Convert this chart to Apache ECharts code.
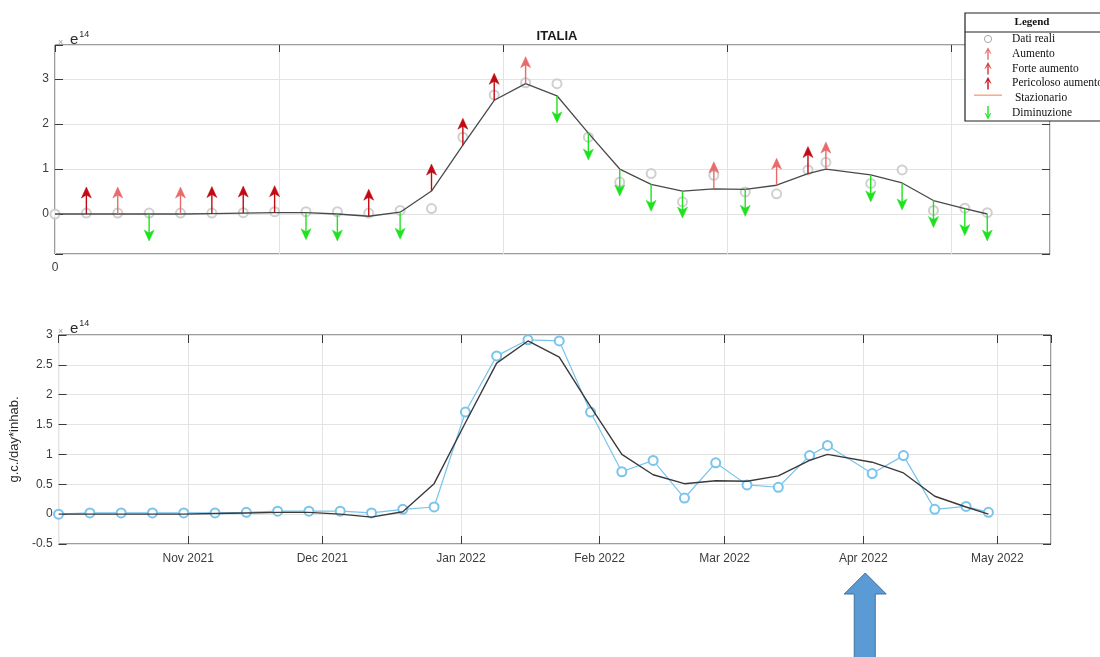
<!DOCTYPE html>
<html>
<head>
<meta charset="utf-8">
<title>ITALIA</title>
<script src="https://cdn.jsdelivr.net/npm/echarts@6/dist/echarts.min.js"></script>
<style>
  html, body { margin: 0; padding: 0; background: #ffffff; }
  #chart { width: 1100px; height: 657px; }
</style>
</head>
<body>
<div id="chart"></div>
<script>
// Weekly sampling dates
const dates = [
  '2021-10-03', '2021-10-10', '2021-10-17', '2021-10-24', '2021-10-31',
  '2021-11-07', '2021-11-14', '2021-11-21', '2021-11-28', '2021-12-05',
  '2021-12-12', '2021-12-19', '2021-12-26', '2022-01-02', '2022-01-09',
  '2022-01-16', '2022-01-23', '2022-01-30', '2022-02-06', '2022-02-13',
  '2022-02-20', '2022-02-27', '2022-03-06', '2022-03-13', '2022-03-20',
  '2022-03-24', '2022-04-03', '2022-04-10', '2022-04-17', '2022-04-24',
  '2022-04-29'
];

// Measured load (x 1e14 g.c./day*inhab.)
const realValues = [
  0.00, 0.02, 0.02, 0.02, 0.02, 0.02, 0.03, 0.05, 0.05, 0.05,
  0.02, 0.08, 0.12, 1.71, 2.65, 2.92, 2.90, 1.71, 0.71, 0.90,
  0.27, 0.86, 0.49, 0.45, 0.98, 1.15, 0.68, 0.98, 0.08, 0.13,
  0.03
];

// Smoothed trend (x 1e14)
const trendValues = [
  0.00, 0.00, 0.00, 0.00, 0.00, 0.01, 0.02, 0.03, 0.03, 0.00,
  -0.05, 0.04, 0.51, 1.53, 2.53, 2.90, 2.63, 1.80, 1.00, 0.66,
  0.51, 0.56, 0.55, 0.64, 0.90, 1.00, 0.87, 0.69, 0.30, 0.12,
  0.00
];

// Trend classification per sample ('' = none)
const trendClass = [
  '', 'Pericoloso aumento', 'Aumento', 'Diminuzione', 'Aumento',
  'Pericoloso aumento', 'Pericoloso aumento', 'Pericoloso aumento', 'Diminuzione', 'Diminuzione',
  'Pericoloso aumento', 'Diminuzione', 'Pericoloso aumento', 'Pericoloso aumento', 'Pericoloso aumento',
  'Aumento', 'Diminuzione', 'Diminuzione', 'Diminuzione', 'Diminuzione',
  'Diminuzione', 'Aumento', 'Diminuzione', 'Aumento', 'Pericoloso aumento',
  'Aumento', 'Diminuzione', 'Diminuzione', 'Diminuzione', 'Diminuzione',
  'Diminuzione'
];

const classNames = ['Aumento', 'Forte aumento', 'Pericoloso aumento', 'Stazionario', 'Diminuzione'];
const legendLabels = ['Dati reali', 'Aumento', 'Forte aumento', 'Pericoloso aumento', ' Stazionario', 'Diminuzione'];

// Axis settings
const axisStart = '2021-10-03';
const axisEnd = '2022-05-13';
const topYTicks = [0, 1, 2, 3];
const markedMonth = '2022-04-01';
const monthNames = ['Jan', 'Feb', 'Mar', 'Apr', 'May', 'Jun', 'Jul', 'Aug', 'Sep', 'Oct', 'Nov', 'Dec'];

// ---------------------------------------------------------------
const DAY = 86400000;
const t0 = Date.parse(axisStart);
const tEnd = Date.parse(axisEnd);
const spanDays = (tEnd - t0) / DAY;
const dayOf = d => (Date.parse(d) - t0) / DAY;

const classColor = {
  'Aumento': '#e86a6a',
  'Forte aumento': '#d83434',
  'Pericoloso aumento': '#c10a12',
  'Stazionario': '#f4a57a',
  'Diminuzione': '#1fe21f'
};

const FONT = 'Liberation Sans, Arial, sans-serif';
const SERIF = 'Liberation Serif, Times New Roman, serif';
const AXIS_DARK = '#3a3a3a';
const GRID_LINE = '#e3e3e3';

const topReal = dates.map((d, i) => [dayOf(d), realValues[i]]);
const topTrend = dates.map((d, i) => [dayOf(d), trendValues[i]]);
const arrowData = [];
dates.forEach((d, i) => {
  if (trendClass[i]) arrowData.push([dayOf(d), trendValues[i], classNames.indexOf(trendClass[i])]);
});
const botReal = dates.map((d, i) => [Date.parse(d), realValues[i]]);
const botTrend = dates.map((d, i) => [Date.parse(d), trendValues[i]]);

// Quiver-style arrow drawn from the trend value
function arrowShape(x, y, color, down, len, head, half, z) {
  const dir = down ? 1 : -1;
  const tipY = y + dir * len;
  const zz = z || 0;
  return [
    { type: 'line', z: zz, shape: { x1: x, y1: y, x2: x, y2: tipY - dir * 4 },
      style: { stroke: color, lineWidth: 1.4 } },
    { type: 'polygon', z: zz,
      shape: { points: [[x, tipY], [x - half, tipY - dir * head], [x, tipY - dir * (head - 3)], [x + half, tipY - dir * head]] },
      style: { fill: color, stroke: color, lineWidth: 0.5 } }
  ];
}

const chart = echarts.init(document.getElementById('chart'), null, { renderer: 'canvas' });

const tickLabelStyle = { color: '#3c3c3c', fontFamily: FONT, fontSize: 12 };
const noLine = { show: false, onZero: false };
const innerTick = len => ({ show: true, inside: true, length: len, lineStyle: { color: AXIS_DARK, width: 1 } });

const option = {
  useUTC: true,
  animation: false,
  backgroundColor: '#ffffff',
  title: {
    text: 'ITALIA',
    left: 552,
    top: 25,
    textAlign: 'center',
    textStyle: { fontFamily: FONT, fontWeight: 'bold', fontSize: 13, color: '#1a1a1a' }
  },
  grid: [
    { left: 55, right: 50, top: 45, height: 209, show: true, borderColor: AXIS_DARK, borderWidth: 1, backgroundColor: 'transparent' },
    { left: 55, right: 49, top: 335, height: 209, show: true, borderColor: AXIS_DARK, borderWidth: 1, backgroundColor: 'transparent' }
  ],
  xAxis: [
    { // top panel, days
      type: 'value', gridIndex: 0, min: 0, max: spanDays, interval: 50,
      axisLine: noLine, axisTick: { show: false },
      splitLine: { show: true, lineStyle: { color: GRID_LINE, width: 1 } },
      axisLabel: Object.assign({ margin: 8, formatter: v => (v === 0 ? '0' : '') }, tickLabelStyle)
    },
    { // top panel, upper tick marks
      type: 'value', gridIndex: 0, position: 'top', min: 0, max: spanDays, interval: 50,
      axisLine: noLine, axisTick: innerTick(7),
      axisLabel: { show: false }, splitLine: { show: false }
    },
    { // bottom panel, dates
      type: 'time', gridIndex: 1, min: t0, max: tEnd, splitNumber: 8,
      axisLine: noLine, axisTick: innerTick(8),
      minorTick: { show: false },
      splitLine: { show: true, lineStyle: { color: GRID_LINE, width: 1 } },
      axisLabel: Object.assign({
        margin: 9,
        hideOverlap: false,
        formatter: v => {
          const d = new Date(v);
          if (d.getUTCDate() !== 1 || d.getUTCHours() !== 0) return '';
          return monthNames[d.getUTCMonth()] + ' ' + d.getUTCFullYear();
        }
      }, tickLabelStyle)
    },
    { // bottom panel, upper tick marks
      type: 'time', gridIndex: 1, position: 'top', min: t0, max: tEnd, splitNumber: 8,
      axisLine: noLine, axisTick: innerTick(8),
      axisLabel: { show: false }, splitLine: { show: false }
    }
  ],
  yAxis: [
    {
      type: 'value', gridIndex: 0, min: -0.89, max: 3.76, splitNumber: 5,
      axisLine: noLine, axisTick: innerTick(8),
      splitLine: { show: true, lineStyle: { color: GRID_LINE, width: 1 } },
      axisLabel: Object.assign({ margin: 6, formatter: v => (topYTicks.indexOf(v) >= 0 ? String(v) : '') }, tickLabelStyle)
    },
    {
      type: 'value', gridIndex: 0, position: 'right', min: -0.89, max: 3.76, splitNumber: 5,
      axisLine: noLine, axisTick: innerTick(8),
      axisLabel: { show: false }, splitLine: { show: false }
    },
    {
      type: 'value', gridIndex: 1, min: -0.5, max: 3, interval: 0.5,
      name: 'g.c./day*inhab.', nameLocation: 'middle', nameGap: 30, nameRotate: 90,
      nameTextStyle: { fontFamily: FONT, fontSize: 13, color: '#2a2a2a' },
      axisLine: noLine, axisTick: innerTick(8),
      splitLine: { show: true, lineStyle: { color: GRID_LINE, width: 1 } },
      axisLabel: Object.assign({ margin: 6 }, tickLabelStyle)
    },
    {
      type: 'value', gridIndex: 1, position: 'right', min: -0.5, max: 3, interval: 0.5,
      axisLine: noLine, axisTick: innerTick(8),
      axisLabel: { show: false }, splitLine: { show: false }
    }
  ],
  series: [
    {
      name: 'Dati reali', type: 'scatter', xAxisIndex: 0, yAxisIndex: 0, data: topReal,
      symbol: 'emptyCircle', symbolSize: 9,
      itemStyle: { color: '#c4c4c4', borderColor: '#c4c4c4', borderWidth: 1.2 }, z: 3
    },
    {
      name: 'Trend', type: 'line', xAxisIndex: 0, yAxisIndex: 0, data: topTrend,
      showSymbol: false, lineStyle: { color: '#4a4a4a', width: 1.3 }, z: 4
    },
    {
      name: 'Classificazione', type: 'custom', xAxisIndex: 0, yAxisIndex: 0, data: arrowData,
      encode: { x: 0, y: 1 }, z: 5,
      renderItem: (params, api) => {
        const cls = classNames[api.value(2)];
        const p = api.coord([api.value(0), api.value(1)]);
        return { type: 'group', children: arrowShape(p[0], p[1], classColor[cls], cls === 'Diminuzione', 27, 11, 5) };
      }
    },
    {
      name: 'Dati reali', type: 'line', xAxisIndex: 2, yAxisIndex: 2, data: botReal,
      symbol: 'emptyCircle', symbolSize: 9,
      lineStyle: { color: '#78c4ec', width: 1.2 },
      itemStyle: { color: '#78c4ec', borderColor: '#78c4ec', borderWidth: 1.1 }, z: 3
    },
    {
      name: 'Trend', type: 'line', xAxisIndex: 2, yAxisIndex: 2, data: botTrend,
      showSymbol: false, lineStyle: { color: '#3a3a3a', width: 1.4 }, z: 4
    }
  ]
};

chart.setOption(option);

// Exponent labels, legend box and the pointer arrow
const expLabel = (x, y) => ({
  type: 'text', x: x, y: y, z: 50,
  style: {
    text: '{x|×}  {e|e}{p|14}',
    rich: {
      x: { fontFamily: FONT, fontSize: 9, fill: '#9a9a9a', verticalAlign: 'bottom' },
      e: { fontFamily: FONT, fontSize: 15, fill: '#2a2a2a', verticalAlign: 'bottom' },
      p: { fontFamily: FONT, fontSize: 9, fill: '#2a2a2a', verticalAlign: 'top', padding: [0, 0, 8, 1] }
    }
  }
});

const LZ = 200;
const legendX = 965, legendY = 13, rowH = 14.8;
const legendChildren = [
  { type: 'rect', z: LZ, shape: { x: legendX, y: legendY, width: 160, height: 108 },
    style: { fill: '#ffffff', stroke: '#222222', lineWidth: 1.2 } },
  { type: 'line', z: LZ, shape: { x1: legendX, y1: legendY + 19, x2: legendX + 160, y2: legendY + 19 },
    style: { stroke: '#222222', lineWidth: 1 } },
  { type: 'text', z: LZ, x: 1032, y: legendY + 9,
    style: { text: 'Legend', fontFamily: SERIF, fontSize: 11, fontWeight: 'bold', fill: '#111111', align: 'center', verticalAlign: 'middle' } }
];
legendLabels.forEach((lbl, i) => {
  const cy = legendY + 26 + i * rowH;
  legendChildren.push({ type: 'text', z: LZ, x: 1012, y: cy,
    style: { text: lbl, fontFamily: SERIF, fontSize: 11.5, fill: '#111111', verticalAlign: 'middle' } });
  const ix = 988;
  if (i === 0) {
    legendChildren.push({ type: 'circle', z: LZ, shape: { cx: ix, cy: cy, r: 3.6 }, style: { fill: 'none', stroke: '#a8a8a8', lineWidth: 1 } });
  } else if (i >= 1 && i <= 3) {
    const col = classColor[classNames[i - 1]];
    arrowShape(ix, cy + 6, col, false, 12, 6, 3, LZ).forEach(s => legendChildren.push(s));
  } else if (i === 4) {
    legendChildren.push({ type: 'line', z: LZ, shape: { x1: ix - 14, y1: cy - 3, x2: ix + 14, y2: cy - 3 }, style: { stroke: classColor['Stazionario'], lineWidth: 1.4 } });
  } else {
    arrowShape(ix, cy - 7, classColor['Diminuzione'], true, 13, 6, 3, LZ).forEach(s => legendChildren.push(s));
  }
});

const px = chart.convertToPixel({ xAxisIndex: 2 }, Date.parse(markedMonth));
const pointer = {
  type: 'polygon', z: 60,
  shape: { points: [[px + 2, 573], [px + 23, 594], [px + 12, 594], [px + 12, 660], [px - 9, 660], [px - 9, 594], [px - 19, 594]] },
  style: { fill: '#5b9bd5', stroke: '#41719c', lineWidth: 1 }
};

chart.setOption({
  graphic: [
    expLabel(58, 30),
    expLabel(58, 319),
    { type: 'group', children: legendChildren },
    pointer
  ]
});
</script>
</body>
</html>
